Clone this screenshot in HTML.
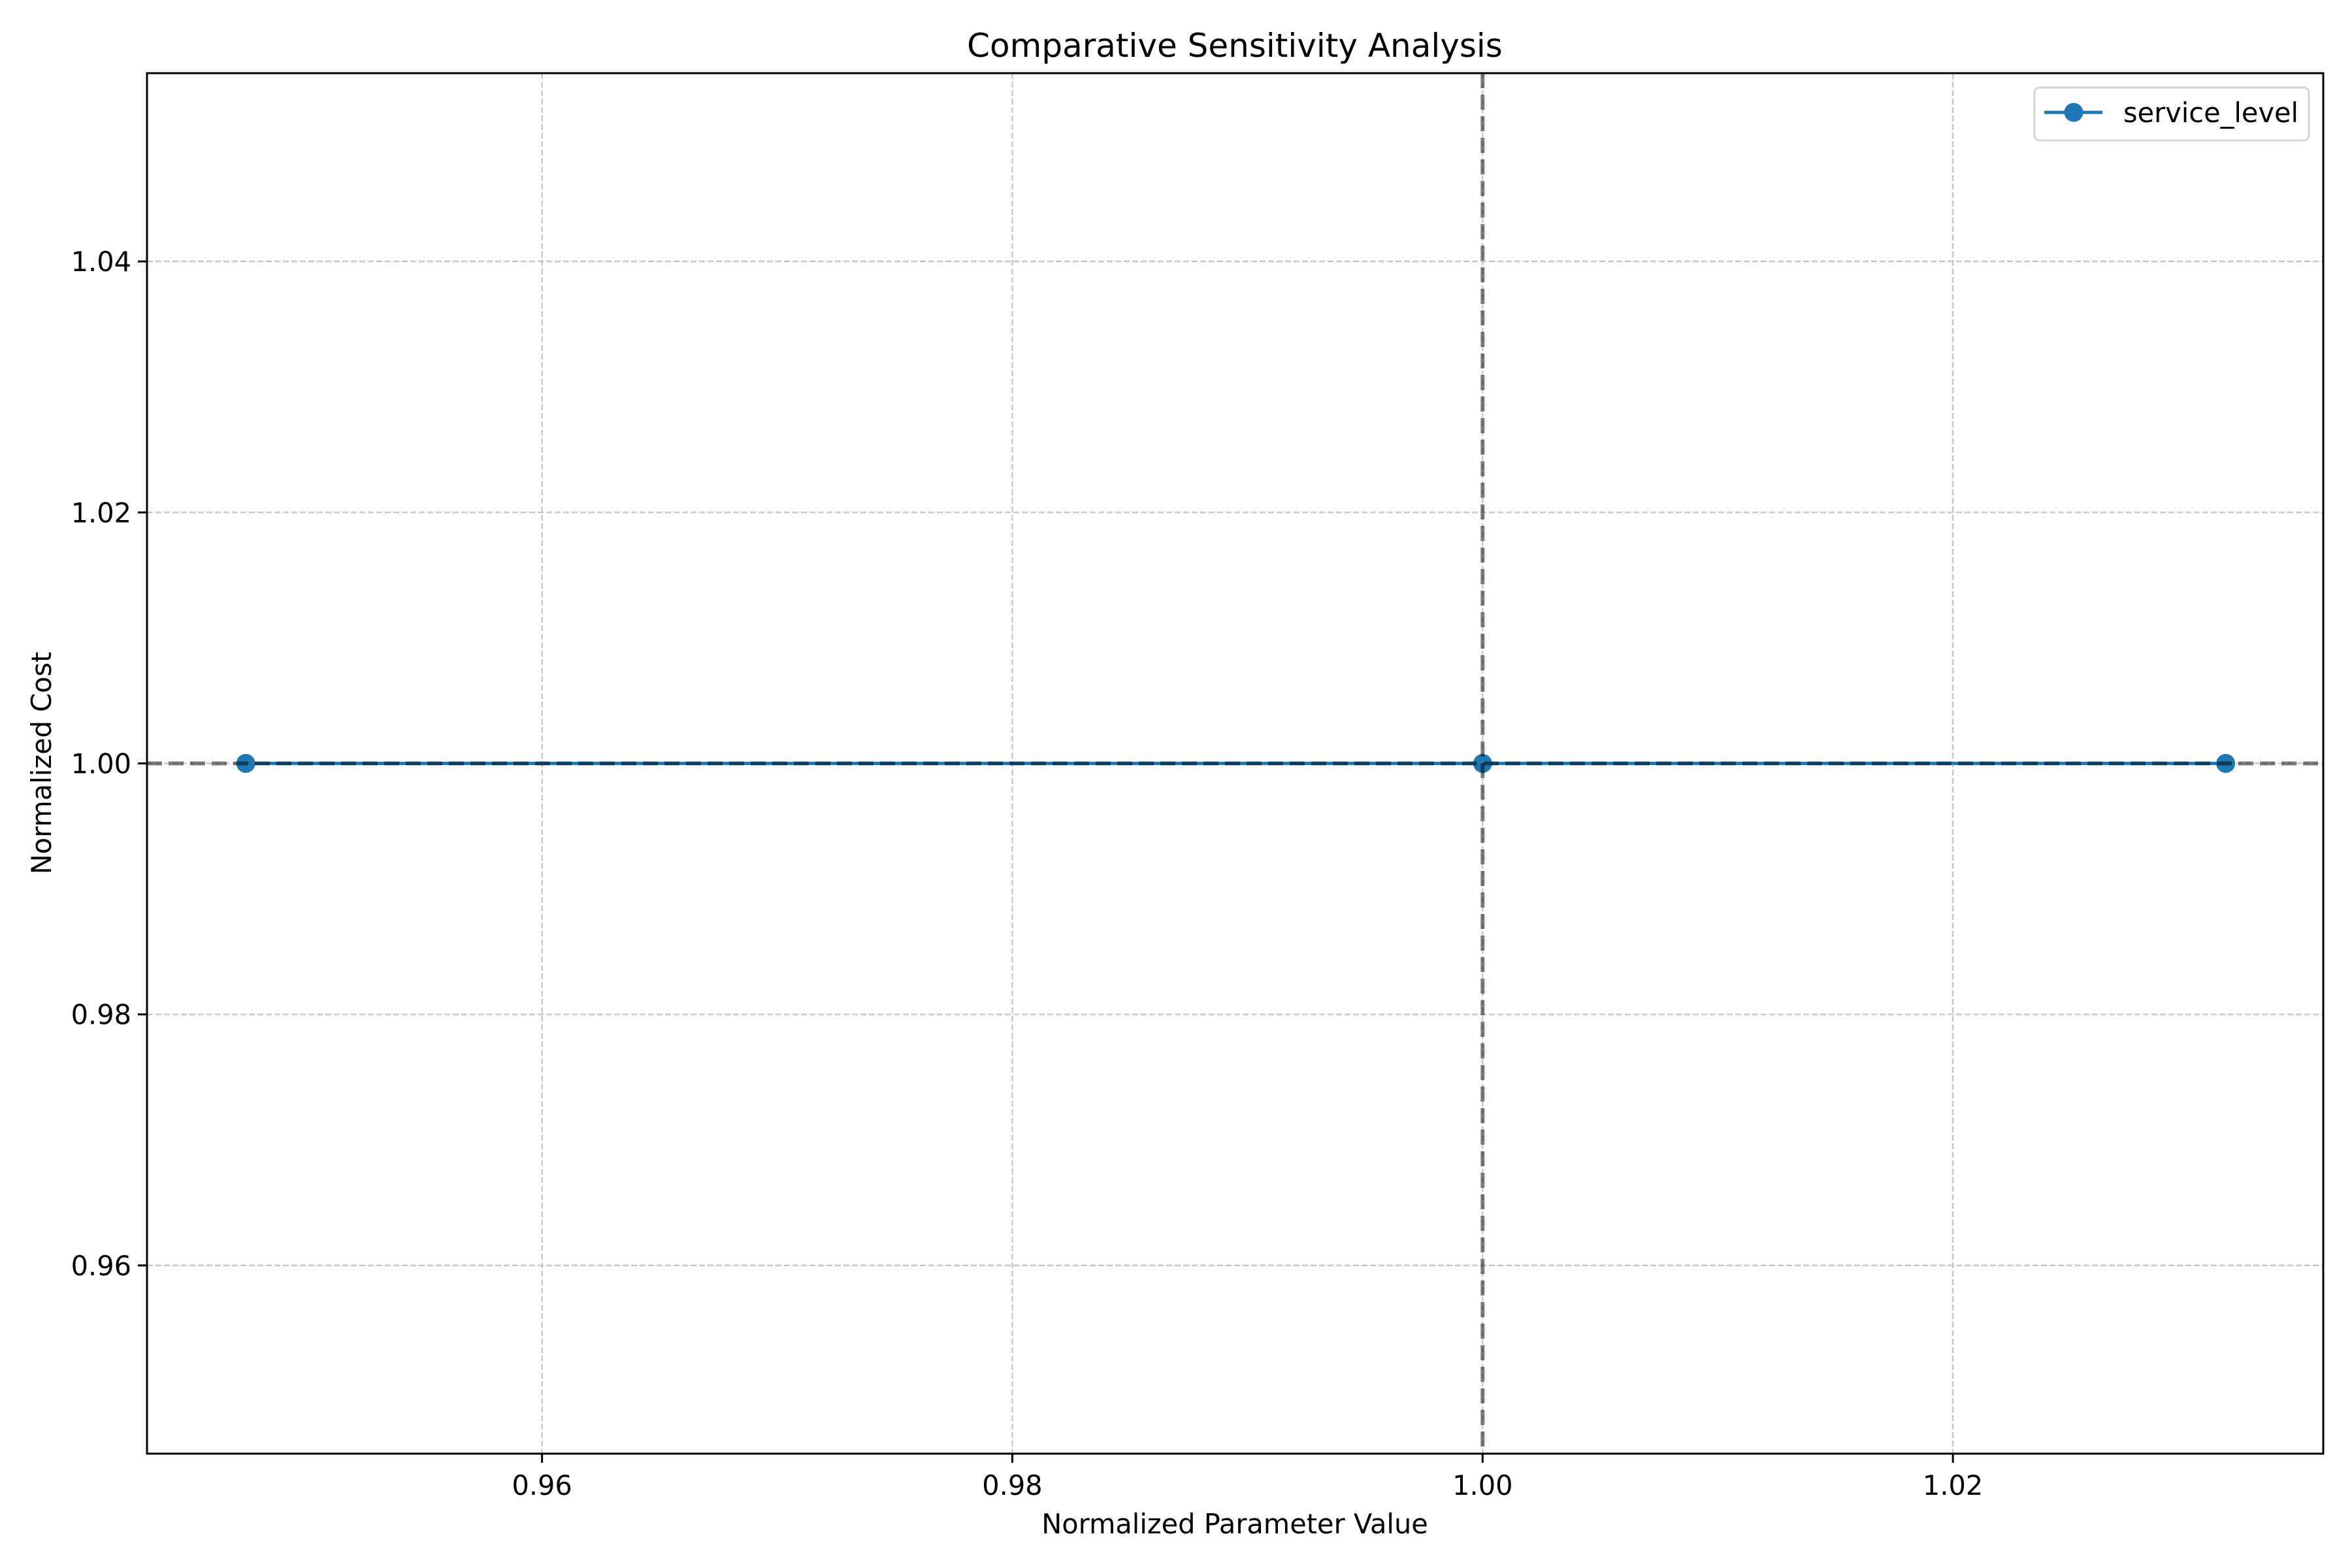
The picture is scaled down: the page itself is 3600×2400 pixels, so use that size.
<!DOCTYPE html>
<html><head><meta charset="utf-8"><style>
html,body{margin:0;padding:0;background:#fff;}
svg{display:block;font-family:"DejaVu Sans","Liberation Sans",sans-serif;}
</style></head><body>
<svg id="chart" width="3600" height="2400" viewBox="0 0 3600 2400" xmlns="http://www.w3.org/2000/svg">
<rect x="0" y="0" width="3600" height="2400" fill="#fff"/>
<g id="grid"></g>
<g id="series"></g>
<g id="refs"></g>
<rect x="225" y="112" width="3331" height="2113" fill="none" stroke="#000" stroke-width="3"/>
<g id="xticks"></g>
<g id="yticks"></g>
<text x="1890" y="87" font-size="50" text-anchor="middle">Comparative Sensitivity Analysis</text>
<text x="1890" y="2347" font-size="41.5" text-anchor="middle">Normalized Parameter Value</text>
<text x="0" y="0" font-size="41.5" text-anchor="middle" transform="translate(78,1168) rotate(-90)">Normalized Cost</text>
<g>
<rect x="3114" y="134" width="420" height="81" rx="8" fill="#fff" fill-opacity="0.8" stroke="#d6d6d6" stroke-width="3"/>
<line x1="3129" y1="172" x2="3218" y2="172" stroke="#1f77b4" stroke-width="5"/>
<circle cx="3174" cy="172" r="14.5" fill="#1f77b4"/>
<text x="3250" y="187" font-size="41.5">service_level</text>
</g>
</svg>
<script>
const xValues = [0.9474, 1.0, 1.0316];
const yValues = [1.0, 1.0, 1.0];
const xTicks = [0.96, 0.98, 1.00, 1.02];
const xTickLabels = ["0.96", "0.98", "1.00", "1.02"];
const yTicks = [0.96, 0.98, 1.00, 1.02, 1.04];
const yTickLabels = ["0.96", "0.98", "1.00", "1.02", "1.04"];
const xRefValue = 1.0;
const yRefValue = 1.0;

const L=225,R=3556,T=112,B=2225;
const xMin=0.9432,xMax=1.03575,yMin=0.945,yMax=1.055;
function sx(v){return L+(v-xMin)/(xMax-xMin)*(R-L);}
function sy(v){return B-(v-yMin)/(yMax-yMin)*(B-T);}
const NS="http://www.w3.org/2000/svg";
function mk(tag,attrs,parent){const e=document.createElementNS(NS,tag);for(const k in attrs)e.setAttribute(k,attrs[k]);parent.appendChild(e);return e;}
const grid=document.getElementById('grid');
const xt=document.getElementById('xticks');
const yt=document.getElementById('yticks');
xTicks.forEach((v,i)=>{
  const x=sx(v);
  const g=mk('line',{x1:x,y1:T,x2:x,y2:B,stroke:'#b0b0b0','stroke-opacity':0.7,'stroke-width':2.4,'stroke-dasharray':'9,4'},grid);
  
  
  const t=mk('line',{x1:x,y1:B,x2:x,y2:B+14,stroke:'#000','stroke-width':3},xt);
  
  
  const l=mk('text',{x:x,y:2288,'font-size':41.5,'text-anchor':'middle'},xt);
  l.textContent=xTickLabels[i];
  
  
});
yTicks.forEach((v,i)=>{
  const y=sy(v);
  const g=mk('line',{x1:L,y1:y,x2:R,y2:y,stroke:'#b0b0b0','stroke-opacity':0.7,'stroke-width':2.4,'stroke-dasharray':'9,4'},grid);
  
  
  const t=mk('line',{x1:L-14,y1:y,x2:L,y2:y,stroke:'#000','stroke-width':3},yt);
  
  
  const l=mk('text',{x:L-24,y:y+15,'font-size':41.5,'text-anchor':'end'},yt);
  l.textContent=yTickLabels[i];
  
  
});
const ser=document.getElementById('series');
const pts=xValues.map((v,i)=>sx(v)+','+sy(yValues[i])).join(' ');
const pl=mk('polyline',{points:pts,fill:'none',stroke:'#1f77b4','stroke-width':5},ser);


xValues.forEach((v,i)=>{
  const c=mk('circle',{cx:sx(v),cy:sy(yValues[i]),r:14.5,fill:'#1f77b4'},ser);
  
  
});
const refs=document.getElementById('refs');
const h=mk('line',{x1:L,y1:sy(yRefValue),x2:R,y2:sy(yRefValue),stroke:'#000','stroke-opacity':0.5,'stroke-width':6,'stroke-dasharray':'23,10'},refs);


const vv=mk('line',{x1:sx(xRefValue),y1:T,x2:sx(xRefValue),y2:B,stroke:'#000','stroke-opacity':0.5,'stroke-width':6,'stroke-dasharray':'23,10'},refs);


</script>
</body></html>
